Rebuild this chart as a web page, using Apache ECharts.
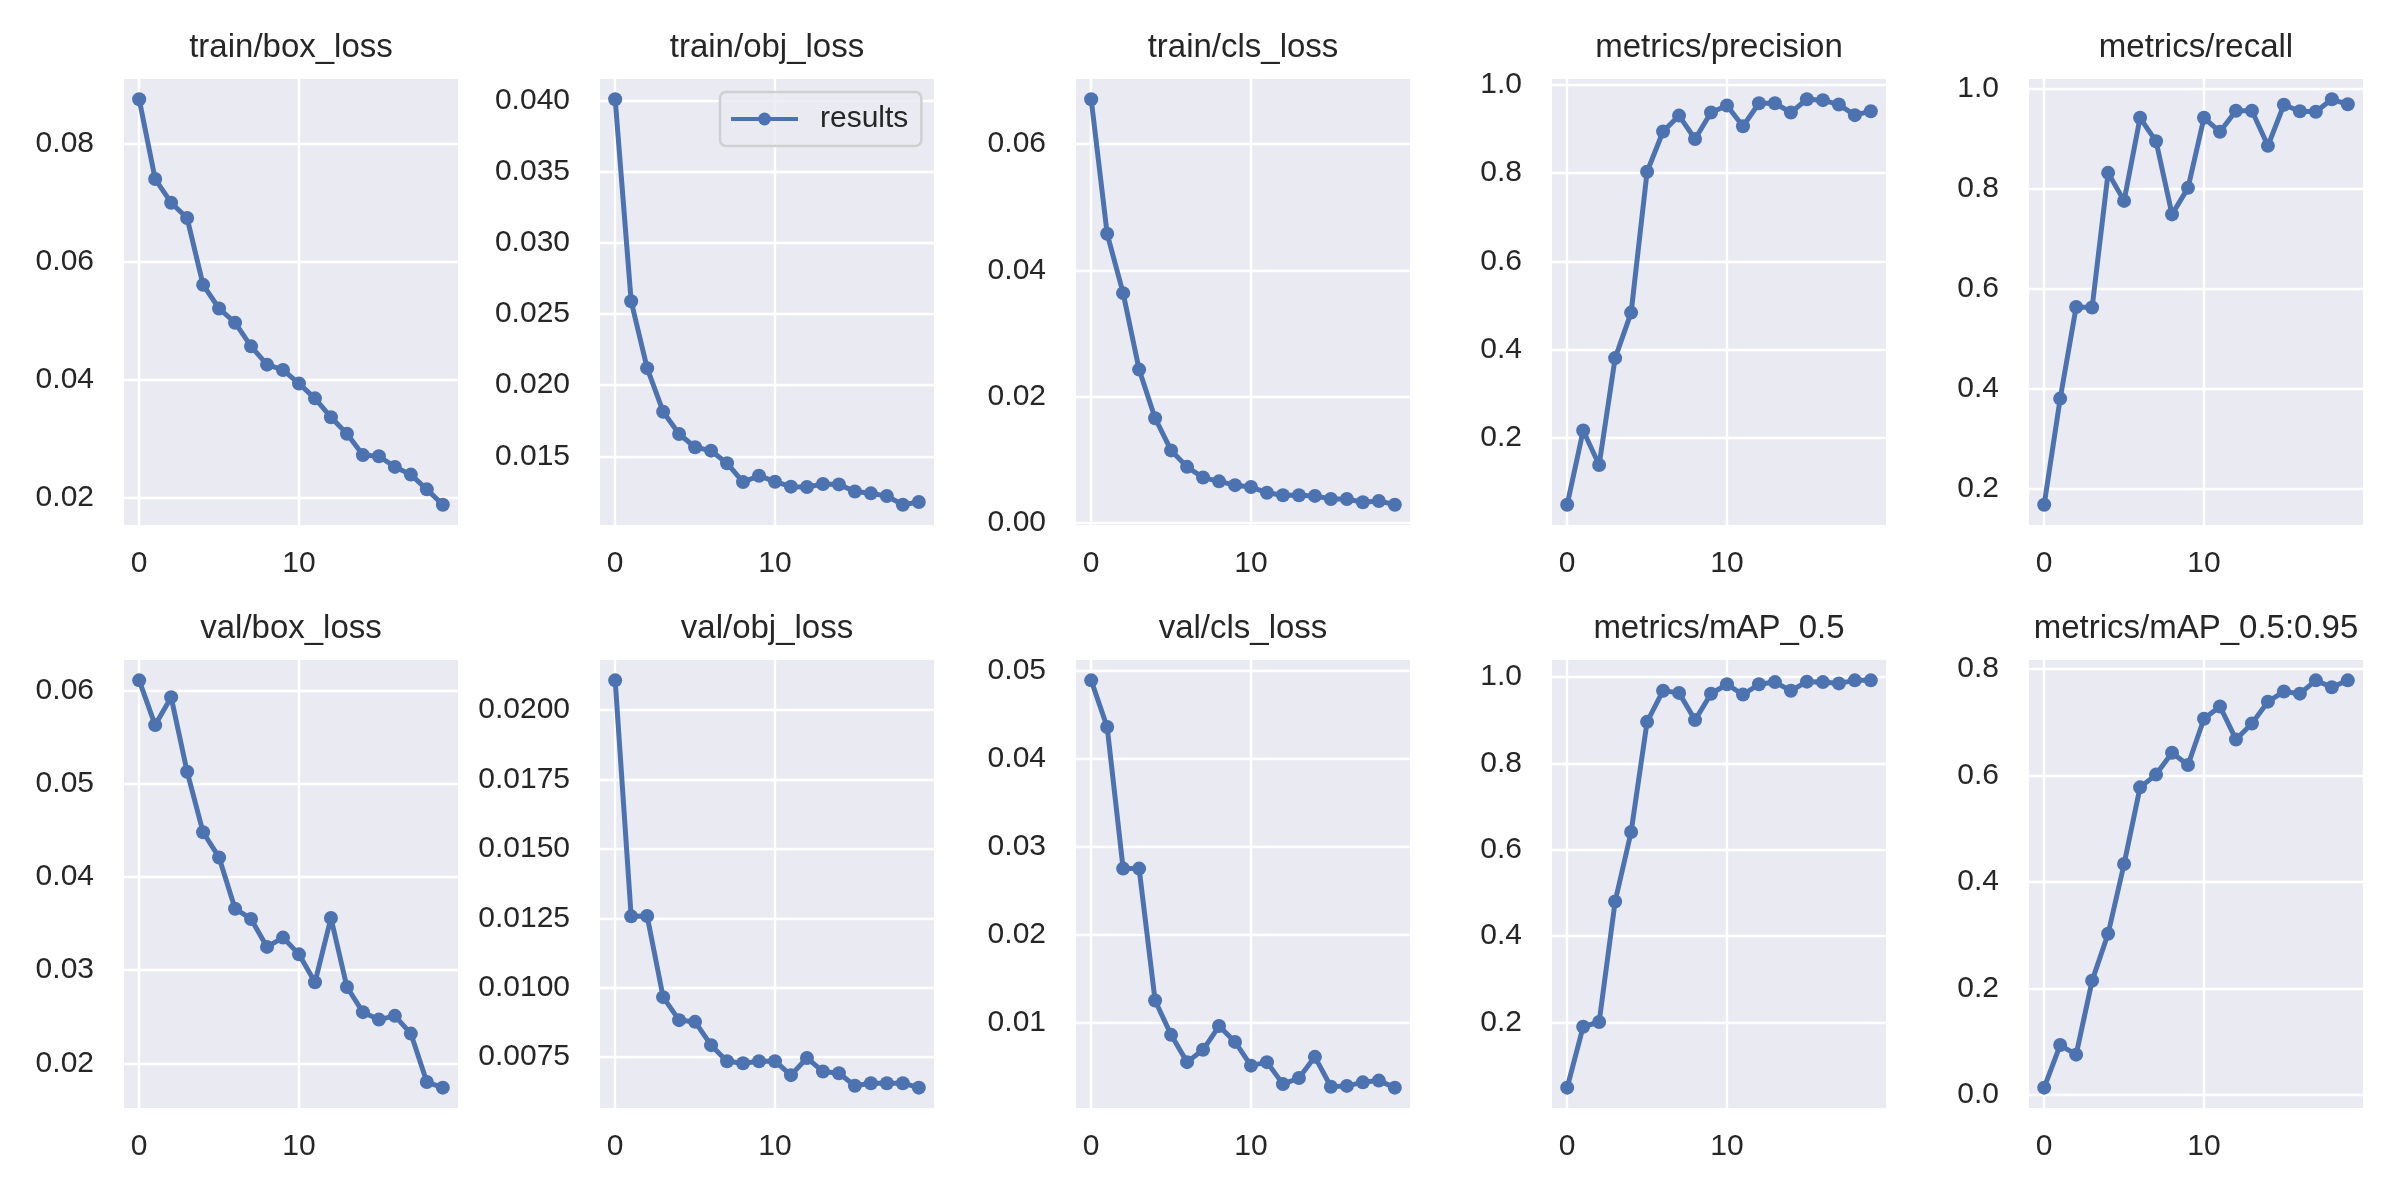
<!DOCTYPE html>
<html>
<head>
<meta charset="utf-8">
<script src="https://cdn.jsdelivr.net/npm/echarts@6/dist/echarts.min.js"></script>
<style>
  html, body { margin: 0; padding: 0; background: #ffffff; }
  #chart { width: 2400px; height: 1200px; }
</style>
</head>
<body>
<div id="chart"></div>
<script>
var epochs = [0, 1, 2, 3, 4, 5, 6, 7, 8, 9, 10, 11, 12, 13, 14, 15, 16, 17, 18, 19];

var titles = ['train/box_loss', 'train/obj_loss', 'train/cls_loss', 'metrics/precision', 'metrics/recall',
              'val/box_loss', 'val/obj_loss', 'val/cls_loss', 'metrics/mAP_0.5', 'metrics/mAP_0.5:0.95'];

var trainBoxLoss = [0.0875, 0.0740, 0.0700, 0.0674, 0.0561, 0.0521, 0.0497, 0.0457, 0.0426, 0.0417,
                    0.0394, 0.0369, 0.0337, 0.0309, 0.0273, 0.0271, 0.0253, 0.0240, 0.0215, 0.0189];
var trainObjLoss = [0.0401, 0.0259, 0.0212, 0.01814, 0.01657, 0.01564, 0.0154, 0.01452, 0.01319, 0.01364,
                    0.01322, 0.01287, 0.01285, 0.01306, 0.01303, 0.01253, 0.0124, 0.01221, 0.0116, 0.01179];
var trainClsLoss = [0.0671, 0.0458, 0.0364, 0.0243, 0.0166, 0.0115, 0.0089, 0.0072, 0.0066, 0.0060,
                    0.0057, 0.0048, 0.0044, 0.0044, 0.0043, 0.0038, 0.0038, 0.0033, 0.0035, 0.0029];
var precision = [0.049, 0.217, 0.139, 0.381, 0.484, 0.803, 0.894, 0.930, 0.877, 0.937,
                 0.953, 0.906, 0.958, 0.958, 0.937, 0.967, 0.965, 0.955, 0.931, 0.940];
var recall = [0.169, 0.381, 0.564, 0.563, 0.832, 0.776, 0.942, 0.895, 0.749, 0.802,
              0.942, 0.914, 0.956, 0.956, 0.886, 0.968, 0.955, 0.954, 0.979, 0.969];
var valBoxLoss = [0.0611, 0.0563, 0.0593, 0.0513, 0.0448, 0.0421, 0.0366, 0.0355, 0.0325, 0.0335,
                  0.0317, 0.0287, 0.0356, 0.0282, 0.0255, 0.0247, 0.0251, 0.0232, 0.0180, 0.0174];
var valObjLoss = [0.02107, 0.01257, 0.01258, 0.00966, 0.00883, 0.00877, 0.00793, 0.00735, 0.00728, 0.00735,
                  0.00735, 0.00685, 0.00747, 0.00698, 0.00692, 0.00647, 0.00656, 0.00656, 0.00656, 0.0064];
var valClsLoss = [0.0489, 0.0436, 0.0275, 0.0275, 0.0125, 0.0086, 0.0055, 0.0069, 0.0096, 0.0078,
                  0.0051, 0.0055, 0.0030, 0.0037, 0.0061, 0.0027, 0.0028, 0.0032, 0.0034, 0.0026];
var mAP50 = [0.049, 0.190, 0.201, 0.480, 0.641, 0.896, 0.968, 0.963, 0.900, 0.961,
             0.983, 0.959, 0.983, 0.988, 0.968, 0.989, 0.988, 0.985, 0.992, 0.992];
var mAP5095 = [0.014, 0.094, 0.076, 0.215, 0.303, 0.434, 0.578, 0.602, 0.643, 0.620,
               0.707, 0.730, 0.668, 0.698, 0.739, 0.758, 0.754, 0.779, 0.766, 0.779];

var panelValues = [trainBoxLoss, trainObjLoss, trainClsLoss, precision, recall,
                   valBoxLoss, valObjLoss, valClsLoss, mAP50, mAP5095];

var xTicks = [0, 10];
var yTicks = [
    [0.02, 0.04, 0.06, 0.08],
    [0.015, 0.020, 0.025, 0.030, 0.035, 0.040],
    [0.00, 0.02, 0.04, 0.06],
    [0.2, 0.4, 0.6, 0.8, 1.0],
    [0.2, 0.4, 0.6, 0.8, 1.0],
    [0.02, 0.03, 0.04, 0.05, 0.06],
    [0.0075, 0.0100, 0.0125, 0.0150, 0.0175, 0.0200],
    [0.01, 0.02, 0.03, 0.04, 0.05],
    [0.2, 0.4, 0.6, 0.8, 1.0],
    [0.0, 0.2, 0.4, 0.6, 0.8]
];
var yDecimals = [2, 3, 2, 1, 1, 2, 4, 2, 1, 1];

// layout of the 2x5 panels
var colLefts = [124, 600, 1076, 1552, 2029];
var rowTops = [79, 660];
var rowHeights = [446, 448];
var titleY = [48, 629];
var panelW = 334;

var textColor = '#262626';
var fontFamily = '"Liberation Sans", Arial, sans-serif';
var lineColor = '#4c72b0';

var grids = [], xAxes = [], yAxes = [], series = [], titleTexts = [];

for (var i = 0; i < panelValues.length; i++) {
    var row = Math.floor(i / 5), col = i % 5;
    var vals = panelValues[i];
    var lo = Math.min.apply(null, vals), hi = Math.max.apply(null, vals);
    var pad = (hi - lo) * 0.05;
    var dec = yDecimals[i];

    grids.push({
        left: colLefts[col], top: rowTops[row], width: panelW, height: rowHeights[row],
        show: true, backgroundColor: '#eaeaf2', borderWidth: 0
    });

    xAxes.push({
        type: 'value', gridIndex: i, min: -0.95, max: 19.95,
        axisLine: { show: false },
        axisTick: { show: false, customValues: xTicks },
        axisLabel: { customValues: xTicks, color: textColor, fontSize: 30, fontFamily: fontFamily, margin: 24 },
        splitLine: { show: true, lineStyle: { color: '#ffffff', width: 2.4 } }
    });

    yAxes.push({
        type: 'value', gridIndex: i, min: lo - pad, max: hi + pad,
        axisLine: { show: false },
        axisTick: { show: false, customValues: yTicks[i] },
        axisLabel: {
            customValues: yTicks[i], color: textColor, fontSize: 30, fontFamily: fontFamily, margin: 30,
            formatter: (function (d) { return function (v) { return v.toFixed(d); }; })(dec)
        },
        splitLine: { show: true, lineStyle: { color: '#ffffff', width: 2.4 } }
    });

    series.push({
        name: 'results', type: 'line', xAxisIndex: i, yAxisIndex: i,
        data: epochs.map(function (e, k) { return [e, vals[k]]; }),
        symbol: 'circle', symbolSize: 14, showSymbol: true,
        lineStyle: { color: lineColor, width: 5 },
        itemStyle: { color: lineColor },
        animation: false
    });

    titleTexts.push({
        type: 'text', x: colLefts[col] + panelW / 2, y: titleY[row],
        style: { text: titles[i], fill: textColor, font: '33px ' + fontFamily, align: 'center', verticalAlign: 'middle' }
    });
}

var option = {
    backgroundColor: '#ffffff',
    animation: false,
    grid: grids,
    xAxis: xAxes,
    yAxis: yAxes,
    series: series,
    graphic: titleTexts,
    legend: {
        data: ['results'],
        left: 720, top: 92,
        padding: [12, 13, 12, 9],
        itemWidth: 67, itemHeight: 16,
        lineStyle: { width: 4 },
        backgroundColor: 'rgba(234,234,242,0.8)',
        borderColor: '#d0d0d0', borderWidth: 2.5, borderRadius: 6,
        textStyle: { fontSize: 30, color: textColor, fontFamily: fontFamily, padding: [0, 0, 0, 17] }
    }
};

var myChart = echarts.init(document.getElementById('chart'));
myChart.setOption(option);
</script>
</body>
</html>
